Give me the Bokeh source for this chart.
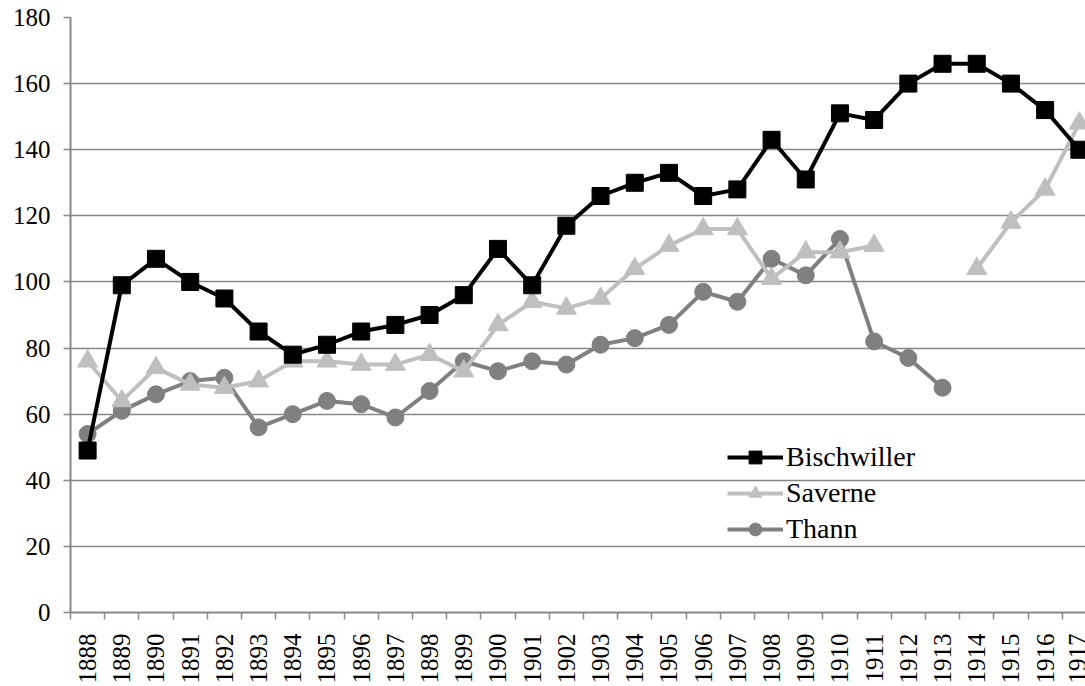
import numpy as np
from bokeh.plotting import figure
from bokeh.models import Range1d, FixedTicker, Legend, LegendItem
from bokeh.embed import file_html
from bokeh.resources import INLINE

nan = float("nan")

years = [1888, 1889, 1890, 1891, 1892, 1893, 1894, 1895, 1896, 1897,
         1898, 1899, 1900, 1901, 1902, 1903, 1904, 1905, 1906, 1907,
         1908, 1909, 1910, 1911, 1912, 1913, 1914, 1915, 1916, 1917]

bischwiller = [49, 99, 107, 100, 95, 85, 78, 81, 85, 87,
               90, 96, 110, 99, 117, 126, 130, 133, 126, 128,
               143, 131, 151, 149, 160, 166, 166, 160, 152, 140]

saverne = [76, 64, 74, 69, 68, 70, 76, 76, 75, 75,
           78, 73, 87, 94, 92, 95, 104, 111, 116, 116,
           101, 109, 109, 111, nan, nan, 104, 118, 128, 148]

thann = [54, 61, 66, 70, 71, 56, 60, 64, 63, 59,
         67, 76, 73, 76, 75, 81, 83, 87, 97, 94,
         107, 102, 113, 82, 77, 68, nan, nan, nan, nan]

y_ticks = [0, 20, 40, 60, 80, 100, 120, 140, 160, 180]

FONT = "Liberation Serif"
GRID = "#878787"

x = np.array(years, dtype=float)

p = figure(width=1085, height=686, output_backend="svg", toolbar_location=None,
           x_range=Range1d(years[0] - 0.5, years[-1] + 0.18),
           y_range=Range1d(0, 180),
           min_border_left=70, min_border_right=0, min_border_top=17, min_border_bottom=71)
p.outline_line_color = None
p.background_fill_color = "white"

# x axis
p.xaxis.ticker = FixedTicker(ticks=years, minor_ticks=[y - 0.5 for y in years] + [years[-1] + 0.5])
p.xaxis.major_tick_out = 0
p.xaxis.major_tick_in = 0
p.xaxis.minor_tick_out = 7
p.xaxis.minor_tick_in = 0
p.xaxis.minor_tick_line_color = GRID
p.xaxis.minor_tick_line_width = 1.5
p.xaxis.axis_line_color = GRID
p.xaxis.axis_line_width = 2
p.xaxis.major_label_orientation = np.pi / 2
p.xaxis.major_label_standoff = 14
p.xaxis.major_label_text_font = FONT
p.xaxis.major_label_text_font_size = "25px"
p.xaxis.major_label_text_color = "black"

# y axis
p.yaxis.ticker = FixedTicker(ticks=y_ticks)
p.yaxis.major_tick_out = 7
p.yaxis.major_tick_in = 0
p.yaxis.minor_tick_out = 0
p.yaxis.minor_tick_in = 0
p.yaxis.major_tick_line_color = GRID
p.yaxis.major_tick_line_width = 1.5
p.yaxis.axis_line_color = GRID
p.yaxis.axis_line_width = 2
p.yaxis.major_label_standoff = 13
p.yaxis.major_label_text_font = FONT
p.yaxis.major_label_text_font_size = "25px"
p.yaxis.major_label_text_color = "black"

p.xgrid.grid_line_color = None
p.ygrid.ticker = FixedTicker(ticks=y_ticks)
p.ygrid.grid_line_color = GRID
p.ygrid.grid_line_width = 1.5

b_arr = np.array(bischwiller, dtype=float)
s_arr = np.array(saverne, dtype=float)
t_arr = np.array(thann, dtype=float)

lt = p.line(x, t_arr, line_color="#808080", line_width=4)
mt = p.scatter(x, t_arr, marker="circle", size=17, fill_color="#808080", line_color="#808080")
ls = p.line(x, s_arr, line_color="#bfbfbf", line_width=4)
ms = p.scatter(x, s_arr, marker="triangle", size=20, fill_color="#bfbfbf", line_color="#bfbfbf")
lb = p.line(x, b_arr, line_color="black", line_width=4)
mb = p.scatter(x, b_arr, marker="square", size=17, fill_color="black", line_color="black")

legend = Legend(items=[
    LegendItem(label="Bischwiller", renderers=[lb, mb]),
    LegendItem(label="Saverne", renderers=[ls, ms]),
    LegendItem(label="Thann", renderers=[lt, mt]),
], location=(653, 63))
legend.background_fill_alpha = 0
legend.border_line_alpha = 0
legend.label_text_font = FONT
legend.label_text_font_size = "28px"
legend.label_text_color = "black"
legend.glyph_width = 56
legend.glyph_height = 32
legend.label_standoff = 3
legend.spacing = 4
legend.padding = 4
legend.margin = 0
p.add_layout(legend, "center")

open("out.html", "w").write(file_html(p, INLINE))
